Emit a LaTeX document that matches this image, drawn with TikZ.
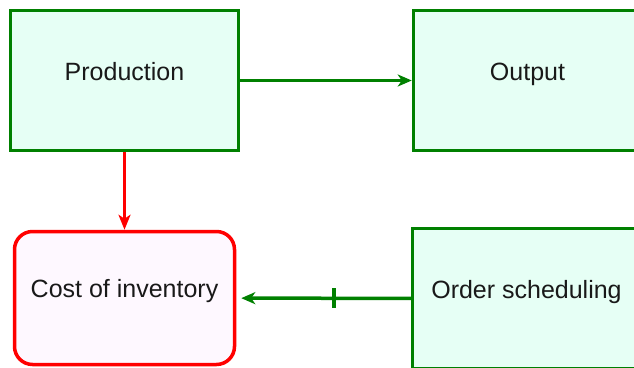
\documentclass[tikz,border=0pt]{standalone}
\usepackage{fontspec}
\setmainfont{Liberation Sans}
\usetikzlibrary{positioning}
\usetikzlibrary{arrows.meta}
\definecolor{flowgreen}{RGB}{0,128,0}
\definecolor{levelfill}{RGB}{230,255,245}
\definecolor{costfill}{RGB}{254,248,255}
\definecolor{textgray}{RGB}{25,25,25}

\begin{document}
\begin{tikzpicture}[x=1pt, y=-1pt,
    every node/.style={font=\fontsize{25}{30}\selectfont, text=textgray},
    every label/.style={text height=18pt, text depth=5pt, yshift=7pt},
    level/.style={draw=flowgreen, fill=levelfill, line width=3.5pt, minimum width=228pt, minimum height=140pt, inner sep=0pt},
    cost/.style={draw=red, fill=costfill, line width=3.5pt, rounded corners=18pt, minimum width=220pt, minimum height=133pt, inner sep=0pt},
    flow/.style={flowgreen, line width=3.5pt, -{Stealth[length=14pt, width=12pt, inset=4pt]}},
    link/.style={red, line width=3.5pt, -{Stealth[length=15pt, width=12pt, inset=4pt]}},
    delaymark/.style={minimum height=20pt, minimum width=0pt, inner sep=0pt, outer sep=0pt}]
    \useasboundingbox (0,0) rectangle (634,367);
    \clip (0,0) rectangle (634,367);
    % boxes
    \node[level, label=center:Production] (production) at (124.5,80.5) {};
    \node[level, label=center:Output] (output) at (527.5,80.5) {};
    \node[level, label=center:Order scheduling] (orders) at (526.5,298.5) {};
    \node[cost, label=center:Cost of inventory] (inventory) at (124.5,298) {};
    % connectors
    \draw[flow] (production) -- (output);
    \draw[link] (production) -- (inventory);
    \draw[flow, shorten >=5pt] (orders) -- node[pos=0.44, delaymark] (delay) {} (inventory);
    \draw[flowgreen, line width=3.5pt] (delay.north) -- (delay.south);
\end{tikzpicture}
\end{document}
